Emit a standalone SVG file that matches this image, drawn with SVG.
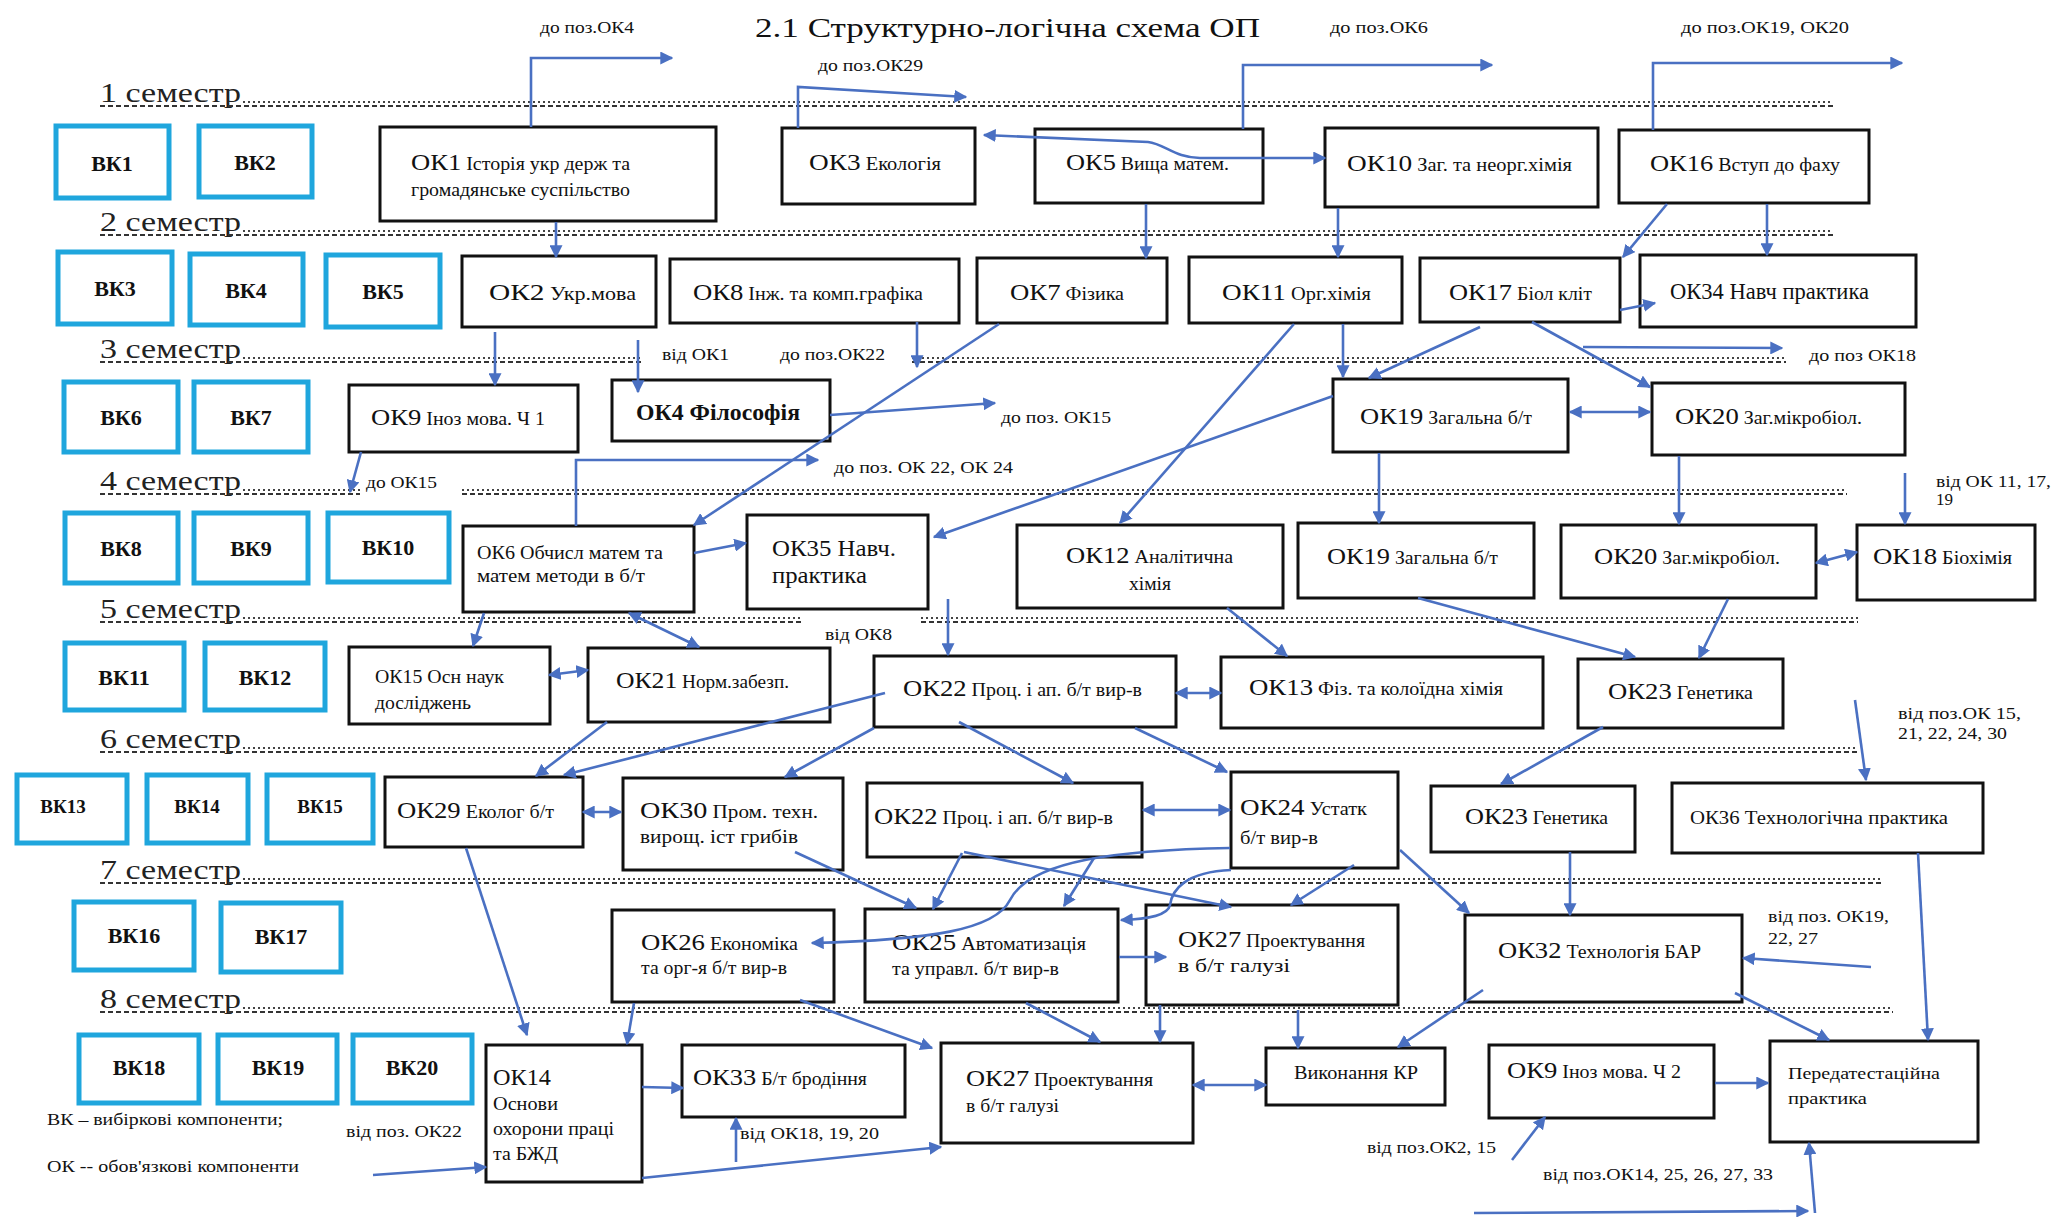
<svg xmlns="http://www.w3.org/2000/svg" width="2055" height="1217" viewBox="0 0 2055 1217">
<style>
.vk rect{fill:#fff;stroke:#1fa6dd;stroke-width:5}
.ok rect{fill:#fff;stroke:#111;stroke-width:3}
text{font-family:"Liberation Serif","Times New Roman",serif;fill:#111}
.vt{font-size:22px;font-weight:bold;text-anchor:middle}
.n{font-size:24px}
.d{font-size:18px}
.lb{font-size:17px}
.sem{font-size:28px;fill:#222}
.sl{stroke:#333;stroke-width:2;stroke-dasharray:5 3;fill:none}
.sd{stroke:#444;stroke-width:2;stroke-dasharray:2 3;fill:none}
.c path{stroke:#4a70c2;stroke-width:2.6;fill:none;marker-end:url(#a)}
.c path.b{marker-start:url(#a)}
</style>
<defs>
<marker id="a" viewBox="0 0 10 10" refX="9" refY="5" markerWidth="5" markerHeight="5" orient="auto-start-reverse"><path d="M0,0 L10,5 L0,10 z" fill="#4a70c2"/></marker>
</defs>
<rect width="2055" height="1217" fill="#fff"/>
<text x="755" y="37" font-size="28" textLength="505" lengthAdjust="spacingAndGlyphs">2.1 Структурно-логічна схема ОП</text>

<g id="semesters">
<text class="sem" x="100" y="102" textLength="141" lengthAdjust="spacingAndGlyphs">1 семестр</text>
<path class="sd" d="M243,102 H1833"/><path class="sl" d="M100,106 H1833"/>
<text class="sem" x="100" y="231" textLength="141" lengthAdjust="spacingAndGlyphs">2 семестр</text>
<path class="sd" d="M243,231 H1833"/><path class="sl" d="M100,235 H1833"/>
<text class="sem" x="100" y="358" textLength="141" lengthAdjust="spacingAndGlyphs">3 семестр</text>
<path class="sd" d="M243,358 H643 M912,358 H1786"/><path class="sl" d="M100,362 H643 M912,362 H1786"/>
<text class="sem" x="100" y="490" textLength="141" lengthAdjust="spacingAndGlyphs">4 семестр</text>
<path class="sd" d="M243,490 H360 M462,490 H1847"/><path class="sl" d="M100,494 H360 M462,494 H1847"/>
<text class="sem" x="100" y="618" textLength="141" lengthAdjust="spacingAndGlyphs">5 семестр</text>
<path class="sd" d="M243,618 H803 M921,618 H1858"/><path class="sl" d="M100,622 H803 M921,622 H1858"/>
<text class="sem" x="100" y="748" textLength="141" lengthAdjust="spacingAndGlyphs">6 семестр</text>
<path class="sd" d="M243,748 H1858"/><path class="sl" d="M100,752 H1858"/>
<text class="sem" x="100" y="879" textLength="141" lengthAdjust="spacingAndGlyphs">7 семестр</text>
<path class="sd" d="M243,879 H1882"/><path class="sl" d="M100,883 H1882"/>
<text class="sem" x="100" y="1008" textLength="141" lengthAdjust="spacingAndGlyphs">8 семестр</text>
<path class="sd" d="M243,1008 H1893"/><path class="sl" d="M100,1012 H1893"/>
</g>

<g id="vk1" class="vk"><rect x="56" y="126" width="113" height="72"/><text class="vt" x="112" y="171">ВК1</text></g>
<g id="vk2" class="vk"><rect x="199" y="126" width="113" height="71"/><text class="vt" x="255" y="170">ВК2</text></g>
<g id="vk3" class="vk"><rect x="58" y="252" width="114" height="72"/><text class="vt" x="115" y="296">ВК3</text></g>
<g id="vk4" class="vk"><rect x="190" y="254" width="113" height="71"/><text class="vt" x="246" y="298">ВК4</text></g>
<g id="vk5" class="vk"><rect x="326" y="255" width="114" height="72"/><text class="vt" x="383" y="299">ВК5</text></g>
<g id="vk6" class="vk"><rect x="64" y="382" width="114" height="70"/><text class="vt" x="121" y="425">ВК6</text></g>
<g id="vk7" class="vk"><rect x="194" y="382" width="114" height="70"/><text class="vt" x="251" y="425">ВК7</text></g>
<g id="vk8" class="vk"><rect x="65" y="513" width="113" height="70"/><text class="vt" x="121" y="556">ВК8</text></g>
<g id="vk9" class="vk"><rect x="194" y="513" width="114" height="70"/><text class="vt" x="251" y="556">ВК9</text></g>
<g id="vk10" class="vk"><rect x="328" y="513" width="121" height="69"/><text class="vt" x="388" y="555">ВК10</text></g>
<g id="vk11" class="vk"><rect x="65" y="643" width="119" height="67"/><text class="vt" x="124" y="685">ВК11</text></g>
<g id="vk12" class="vk"><rect x="205" y="643" width="120" height="67"/><text class="vt" x="265" y="685">ВК12</text></g>
<g id="vk13" class="vk"><rect x="17" y="775" width="110" height="68"/><text class="vt" x="63" y="813" style="font-size:19px">ВК13</text></g>
<g id="vk14" class="vk"><rect x="147" y="775" width="101" height="68"/><text class="vt" x="197" y="813" style="font-size:19px">ВК14</text></g>
<g id="vk15" class="vk"><rect x="267" y="775" width="106" height="68"/><text class="vt" x="320" y="813" style="font-size:19px">ВК15</text></g>
<g id="vk16" class="vk"><rect x="74" y="902" width="120" height="68"/><text class="vt" x="134" y="943">ВК16</text></g>
<g id="vk17" class="vk"><rect x="221" y="903" width="120" height="69"/><text class="vt" x="281" y="944">ВК17</text></g>
<g id="vk18" class="vk"><rect x="79" y="1035" width="120" height="68"/><text class="vt" x="139" y="1075">ВК18</text></g>
<g id="vk19" class="vk"><rect x="218" y="1035" width="119" height="68"/><text class="vt" x="278" y="1075">ВК19</text></g>
<g id="vk20" class="vk"><rect x="353" y="1035" width="119" height="68"/><text class="vt" x="412" y="1075">ВК20</text></g>

<g id="ok1" class="ok"><rect x="380" y="127" width="336" height="94"/><text x="411" y="170" textLength="219" lengthAdjust="spacingAndGlyphs"><tspan class="n">ОК1</tspan><tspan class="d">  Історія укр держ та</tspan></text><text class="d" x="411" y="196" textLength="219" lengthAdjust="spacingAndGlyphs">громадянське суспільство</text></g>
<g id="ok3" class="ok"><rect x="782" y="128" width="193" height="76"/><text x="809" y="170" textLength="132" lengthAdjust="spacingAndGlyphs"><tspan class="n">ОК3</tspan><tspan class="d">  Екологія</tspan></text></g>
<g id="ok5" class="ok"><rect x="1035" y="129" width="228" height="74"/><text x="1066" y="170" textLength="163" lengthAdjust="spacingAndGlyphs"><tspan class="n">ОК5</tspan><tspan class="d">  Вища матем.</tspan></text></g>
<g id="ok10" class="ok"><rect x="1325" y="128" width="273" height="79"/><text x="1347" y="171" textLength="225" lengthAdjust="spacingAndGlyphs"><tspan class="n">ОК10</tspan><tspan class="d">  Заг. та неорг.хімія</tspan></text></g>
<g id="ok16" class="ok"><rect x="1619" y="130" width="250" height="73"/><text x="1650" y="171" textLength="190" lengthAdjust="spacingAndGlyphs"><tspan class="n">ОК16</tspan><tspan class="d"> Вступ до фаху</tspan></text></g>

<g id="ok2" class="ok"><rect x="462" y="256" width="194" height="71"/><text x="489" y="300" textLength="147" lengthAdjust="spacingAndGlyphs"><tspan class="n">ОК2</tspan><tspan class="d">  Укр.мова</tspan></text></g>
<g id="ok8" class="ok"><rect x="670" y="259" width="289" height="64"/><text x="693" y="300" textLength="230" lengthAdjust="spacingAndGlyphs"><tspan class="n">ОК8</tspan><tspan class="d">  Інж. та комп.графіка</tspan></text></g>
<g id="ok7" class="ok"><rect x="977" y="258" width="190" height="65"/><text x="1010" y="300" textLength="114" lengthAdjust="spacingAndGlyphs"><tspan class="n">ОК7</tspan><tspan class="d">  Фізика</tspan></text></g>
<g id="ok11" class="ok"><rect x="1189" y="257" width="213" height="66"/><text x="1222" y="300" textLength="149" lengthAdjust="spacingAndGlyphs"><tspan class="n">ОК11</tspan><tspan class="d">  Орг.хімія</tspan></text></g>
<g id="ok17" class="ok"><rect x="1420" y="258" width="200" height="64"/><text x="1449" y="300" textLength="143" lengthAdjust="spacingAndGlyphs"><tspan class="n">ОК17</tspan><tspan class="d"> Біол кліт</tspan></text></g>
<g id="ok34" class="ok"><rect x="1640" y="255" width="276" height="72"/><text x="1670" y="299" textLength="199" lengthAdjust="spacingAndGlyphs"><tspan class="n">ОК34</tspan><tspan class="n"> Навч практика</tspan></text></g>

<g id="ok9a" class="ok"><rect x="349" y="385" width="229" height="67"/><text x="371" y="425" textLength="174" lengthAdjust="spacingAndGlyphs"><tspan class="n">ОК9</tspan><tspan class="d">  Іноз мова. Ч 1</tspan></text></g>
<g id="ok4" class="ok"><rect x="612" y="380" width="218" height="61"/><text x="636" y="420" textLength="164" lengthAdjust="spacingAndGlyphs" style="font-size:24px;font-weight:bold">ОК4 Філософія</text></g>
<g id="ok19a" class="ok"><rect x="1333" y="379" width="235" height="73"/><text x="1360" y="424" textLength="172" lengthAdjust="spacingAndGlyphs"><tspan class="n">ОК19</tspan><tspan class="d">  Загальна б/т</tspan></text></g>
<g id="ok20a" class="ok"><rect x="1652" y="383" width="253" height="72"/><text x="1675" y="424" textLength="187" lengthAdjust="spacingAndGlyphs"><tspan class="n">ОК20</tspan><tspan class="d">  Заг.мікробіол.</tspan></text></g>

<g id="ok6" class="ok"><rect x="463" y="526" width="231" height="86"/><text class="d" x="477" y="559" textLength="186" lengthAdjust="spacingAndGlyphs">ОК6 Обчисл матем та</text><text class="d" x="477" y="582" textLength="168" lengthAdjust="spacingAndGlyphs">матем методи в б/т</text></g>
<g id="ok35" class="ok"><rect x="747" y="515" width="181" height="94"/><text class="n" x="772" y="556" textLength="124" lengthAdjust="spacingAndGlyphs">ОК35 Навч.</text><text class="n" x="772" y="583" textLength="95" lengthAdjust="spacingAndGlyphs">практика</text></g>
<g id="ok12" class="ok"><rect x="1017" y="525" width="266" height="83"/><text x="1066" y="563" textLength="167" lengthAdjust="spacingAndGlyphs"><tspan class="n">ОК12</tspan><tspan class="d">  Аналітична</tspan></text><text class="d" x="1129" y="590" textLength="42" lengthAdjust="spacingAndGlyphs">хімія</text></g>
<g id="ok19b" class="ok"><rect x="1298" y="523" width="236" height="75"/><text x="1327" y="564" textLength="171" lengthAdjust="spacingAndGlyphs"><tspan class="n">ОК19</tspan><tspan class="d">  Загальна б/т</tspan></text></g>
<g id="ok20b" class="ok"><rect x="1561" y="525" width="255" height="73"/><text x="1594" y="564" textLength="186" lengthAdjust="spacingAndGlyphs"><tspan class="n">ОК20</tspan><tspan class="d"> Заг.мікробіол.</tspan></text></g>
<g id="ok18" class="ok"><rect x="1857" y="525" width="178" height="75"/><text x="1873" y="564" textLength="139" lengthAdjust="spacingAndGlyphs"><tspan class="n">ОК18</tspan><tspan class="d">  Біохімія</tspan></text></g>

<g id="ok15" class="ok"><rect x="349" y="647" width="201" height="77"/><text class="d" x="375" y="683" textLength="129" lengthAdjust="spacingAndGlyphs">ОК15 Осн наук</text><text class="d" x="375" y="709" textLength="96" lengthAdjust="spacingAndGlyphs">досліджень</text></g>
<g id="ok21" class="ok"><rect x="588" y="648" width="242" height="74"/><text x="616" y="688" textLength="173" lengthAdjust="spacingAndGlyphs"><tspan class="n">ОК21</tspan><tspan class="d">  Норм.забезп.</tspan></text></g>
<g id="ok22a" class="ok"><rect x="874" y="656" width="302" height="71"/><text x="903" y="696" textLength="239" lengthAdjust="spacingAndGlyphs"><tspan class="n">ОК22</tspan><tspan class="d">  Проц. і ап. б/т вир-в</tspan></text></g>
<g id="ok13" class="ok"><rect x="1221" y="657" width="322" height="71"/><text x="1249" y="695" textLength="254" lengthAdjust="spacingAndGlyphs"><tspan class="n">ОК13</tspan><tspan class="d">  Фіз. та колоїдна хімія</tspan></text></g>
<g id="ok23a" class="ok"><rect x="1578" y="659" width="205" height="69"/><text x="1608" y="699" textLength="145" lengthAdjust="spacingAndGlyphs"><tspan class="n">ОК23</tspan><tspan class="d">  Генетика</tspan></text></g>

<g id="ok29" class="ok"><rect x="385" y="777" width="198" height="70"/><text x="397" y="818" textLength="157" lengthAdjust="spacingAndGlyphs"><tspan class="n">ОК29</tspan><tspan class="d">  Еколог б/т</tspan></text></g>
<g id="ok30" class="ok"><rect x="623" y="778" width="220" height="92"/><text x="640" y="818" textLength="178" lengthAdjust="spacingAndGlyphs"><tspan class="n">ОК30</tspan><tspan class="d">  Пром. техн.</tspan></text><text class="d" x="640" y="843" textLength="158" lengthAdjust="spacingAndGlyphs">вирощ. іст грибів</text></g>
<g id="ok22b" class="ok"><rect x="867" y="783" width="275" height="74"/><text x="874" y="824" textLength="239" lengthAdjust="spacingAndGlyphs"><tspan class="n">ОК22</tspan><tspan class="d">  Проц. і ап. б/т вир-в</tspan></text></g>
<g id="ok24" class="ok"><rect x="1231" y="772" width="167" height="96"/><text x="1240" y="815" textLength="127" lengthAdjust="spacingAndGlyphs"><tspan class="n">ОК24</tspan><tspan class="d"> Устатк</tspan></text><text class="d" x="1240" y="844" textLength="78" lengthAdjust="spacingAndGlyphs">б/т вир-в</text></g>
<g id="ok23b" class="ok"><rect x="1431" y="786" width="204" height="66"/><text x="1465" y="824" textLength="143" lengthAdjust="spacingAndGlyphs"><tspan class="n">ОК23</tspan><tspan class="d"> Генетика</tspan></text></g>
<g id="ok36" class="ok"><rect x="1672" y="783" width="311" height="70"/><text x="1690" y="824" textLength="258" lengthAdjust="spacingAndGlyphs"><tspan class="d">ОК36 Технологічна практика</tspan></text></g>

<g id="ok26" class="ok"><rect x="612" y="910" width="222" height="92"/><text x="641" y="950" textLength="157" lengthAdjust="spacingAndGlyphs"><tspan class="n">ОК26</tspan><tspan class="d">  Економіка</tspan></text><text class="d" x="641" y="974" textLength="146" lengthAdjust="spacingAndGlyphs">та орг-я б/т вир-в</text></g>
<g id="ok25" class="ok"><rect x="865" y="909" width="253" height="93"/><text x="892" y="950" textLength="194" lengthAdjust="spacingAndGlyphs"><tspan class="n">ОК25</tspan><tspan class="d">  Автоматизація</tspan></text><text class="d" x="892" y="975" textLength="167" lengthAdjust="spacingAndGlyphs">та управл. б/т вир-в</text></g>
<g id="ok27a" class="ok"><rect x="1146" y="905" width="252" height="100"/><text x="1178" y="947" textLength="187" lengthAdjust="spacingAndGlyphs"><tspan class="n">ОК27</tspan><tspan class="d"> Проектування</tspan></text><text class="d" x="1178" y="972" textLength="112" lengthAdjust="spacingAndGlyphs">в б/т галузі</text></g>
<g id="ok32" class="ok"><rect x="1465" y="915" width="277" height="87"/><text x="1498" y="958" textLength="203" lengthAdjust="spacingAndGlyphs"><tspan class="n">ОК32</tspan><tspan class="d"> Технологія БАР</tspan></text></g>

<g id="ok14" class="ok"><rect x="486" y="1045" width="156" height="137"/><text class="n" x="493" y="1085" textLength="58" lengthAdjust="spacingAndGlyphs">ОК14</text><text class="d" x="493" y="1110" textLength="65" lengthAdjust="spacingAndGlyphs">Основи</text><text class="d" x="493" y="1135" textLength="121" lengthAdjust="spacingAndGlyphs">охорони праці</text><text class="d" x="493" y="1160" textLength="65" lengthAdjust="spacingAndGlyphs">та БЖД</text></g>
<g id="ok33" class="ok"><rect x="682" y="1045" width="223" height="72"/><text x="693" y="1085" textLength="174" lengthAdjust="spacingAndGlyphs"><tspan class="n">ОК33</tspan><tspan class="d">  Б/т бродіння</tspan></text></g>
<g id="ok27b" class="ok"><rect x="941" y="1043" width="252" height="100"/><text x="966" y="1086" textLength="187" lengthAdjust="spacingAndGlyphs"><tspan class="n">ОК27</tspan><tspan class="d">  Проектування</tspan></text><text class="d" x="966" y="1112" textLength="93" lengthAdjust="spacingAndGlyphs">в б/т галузі</text></g>
<g id="kr" class="ok"><rect x="1266" y="1048" width="179" height="57"/><text class="d" x="1294" y="1079" textLength="124" lengthAdjust="spacingAndGlyphs">Виконання КР</text></g>
<g id="ok9b" class="ok"><rect x="1489" y="1045" width="225" height="73"/><text x="1507" y="1078" textLength="174" lengthAdjust="spacingAndGlyphs"><tspan class="n">ОК9</tspan><tspan class="d">  Іноз мова. Ч 2</tspan></text></g>
<g id="pred" class="ok"><rect x="1770" y="1041" width="208" height="101"/><text class="d" x="1788" y="1079" textLength="152" lengthAdjust="spacingAndGlyphs" style="font-size:16px">Передатестаційна</text><text class="d" x="1788" y="1104" textLength="79" lengthAdjust="spacingAndGlyphs" style="font-size:16px">практика</text></g>

<g id="labels" class="lb">
<text class="lb" x="540" y="33" textLength="94" lengthAdjust="spacingAndGlyphs">до поз.ОК4</text>
<text class="lb" x="818" y="71" textLength="105" lengthAdjust="spacingAndGlyphs">до поз.ОК29</text>
<text class="lb" x="1330" y="33" textLength="98" lengthAdjust="spacingAndGlyphs">до поз.ОК6</text>
<text class="lb" x="1681" y="33" textLength="168" lengthAdjust="spacingAndGlyphs">до поз.ОК19, ОК20</text>
<text class="lb" x="1809" y="361" textLength="107" lengthAdjust="spacingAndGlyphs">до поз ОК18</text>
<text class="lb" x="662" y="360" textLength="67" lengthAdjust="spacingAndGlyphs">від ОК1</text>
<text class="lb" x="780" y="360" textLength="105" lengthAdjust="spacingAndGlyphs">до поз.ОК22</text>
<text class="lb" x="1001" y="423" textLength="110" lengthAdjust="spacingAndGlyphs">до поз. ОК15</text>
<text class="lb" x="834" y="473" textLength="179" lengthAdjust="spacingAndGlyphs">до поз. ОК 22, ОК 24</text>
<text class="lb" x="366" y="488" textLength="71" lengthAdjust="spacingAndGlyphs">до ОК15</text>
<text class="lb" x="1936" y="487" textLength="115" lengthAdjust="spacingAndGlyphs">від ОК 11, 17,</text>
<text class="lb" x="1936" y="505">19</text>
<text class="lb" x="825" y="640" textLength="67" lengthAdjust="spacingAndGlyphs">від ОК8</text>
<text class="lb" x="1898" y="719" textLength="123" lengthAdjust="spacingAndGlyphs">від поз.ОК 15,</text>
<text class="lb" x="1898" y="739" textLength="109" lengthAdjust="spacingAndGlyphs">21, 22, 24, 30</text>
<text class="lb" x="1768" y="922" textLength="121" lengthAdjust="spacingAndGlyphs">від поз. ОК19,</text>
<text class="lb" x="1768" y="944" textLength="50" lengthAdjust="spacingAndGlyphs">22, 27</text>
<text class="lb" x="740" y="1139" textLength="139" lengthAdjust="spacingAndGlyphs">від ОК18, 19, 20</text>
<text class="lb" x="346" y="1137" textLength="116" lengthAdjust="spacingAndGlyphs">від поз. ОК22</text>
<text class="lb" x="47" y="1125" textLength="236" lengthAdjust="spacingAndGlyphs">ВК – вибіркові компоненти;</text>
<text class="lb" x="47" y="1172" textLength="252" lengthAdjust="spacingAndGlyphs">ОК -- обов'язкові компоненти</text>
<text class="lb" x="1367" y="1153" textLength="129" lengthAdjust="spacingAndGlyphs">від поз.ОК2, 15</text>
<text class="lb" x="1543" y="1180" textLength="230" lengthAdjust="spacingAndGlyphs">від поз.ОК14, 25, 26, 27, 33</text>
</g>

<g id="connectors" class="c">
<path d="M531,127 V58 H672"/>
<path d="M798,128 V87 L966,97"/>
<path d="M1243,129 V65 H1492"/>
<path d="M1653,130 V63 H1902"/>
<path class="b" d="M984,135 L1148,142 C1165,144 1175,158 1200,158 L1325,158"/>
<path d="M556,222 V257"/>
<path d="M1146,204 V258"/>
<path d="M1338,208 V257"/>
<path d="M1667,204 L1623,257"/>
<path d="M1767,204 V255"/>
<path d="M1620,310 L1655,303"/>
<path d="M1480,327 L1369,378"/>
<path d="M1532,322 L1650,387"/>
<path d="M1583,347 L1782,348"/>
<path d="M1343,324 V377"/>
<path d="M1294,324 L1120,523"/>
<path d="M1333,396 L934,537"/>
<path class="b" d="M1570,412 L1650,412"/>
<path d="M1379,453 V523"/>
<path d="M1679,456 V524"/>
<path d="M1905,473 V524"/>
<path class="b" d="M1816,563 L1857,552"/>
<path d="M1418,598 L1635,657"/>
<path d="M1728,599 L1699,658"/>
<path d="M1227,608 L1287,656"/>
<path d="M948,599 V655"/>
<path class="b" d="M1176,693 L1221,693"/>
<path d="M694,553 L746,543"/>
<path d="M999,324 L694,525"/>
<path d="M830,415 L995,403"/>
<path d="M576,526 V460 H818"/>
<path d="M917,322 V367"/>
<path d="M638,340 V392"/>
<path d="M495,332 V385"/>
<path d="M361,452 L350,492"/>
<path d="M484,613 L473,646"/>
<path class="b" d="M629,613 L699,647"/>
<path class="b" d="M549,675 L588,670"/>
<path d="M607,722 L536,776"/>
<path d="M885,693 L564,775"/>
<path d="M874,728 L785,777"/>
<path d="M959,722 L1073,783"/>
<path d="M1135,728 L1227,772"/>
<path class="b" d="M583,812 L621,812"/>
<path class="b" d="M1143,810 L1230,810"/>
<path d="M1603,727 L1501,784"/>
<path d="M1855,700 L1866,780"/>
<path d="M466,848 L527,1035"/>
<path d="M795,852 L916,908"/>
<path d="M962,853 L933,909"/>
<path d="M964,852 L1231,907"/>
<path d="M1094,858 L1064,906"/>
<path d="M1230,848 C1120,850 1030,860 1010,900 C995,930 930,940 812,943"/>
<path d="M1231,870 C1185,872 1172,890 1170,905 C1168,915 1150,919 1121,920"/>
<path d="M1354,865 L1291,905"/>
<path d="M1400,850 L1469,913"/>
<path d="M1119,957 L1166,957"/>
<path d="M800,1000 L932,1048"/>
<path d="M1026,1003 L1100,1042"/>
<path d="M1160,1005 V1042"/>
<path d="M1298,1010 V1048"/>
<path class="b" d="M1193,1085 L1266,1085"/>
<path d="M634,1003 L627,1044"/>
<path d="M642,1087 L683,1088"/>
<path d="M736,1162 V1118"/>
<path d="M642,1178 L941,1147"/>
<path d="M373,1175 L486,1167"/>
<path d="M1570,852 V915"/>
<path d="M1918,853 L1928,1040"/>
<path d="M1871,967 L1743,958"/>
<path d="M1735,993 L1829,1040"/>
<path d="M1483,990 L1398,1047"/>
<path d="M1715,1083 L1768,1083"/>
<path d="M1512,1160 L1545,1117"/>
<path d="M1474,1213 L1808,1211"/>
<path d="M1815,1213 L1809,1143"/>
</g>
</svg>
